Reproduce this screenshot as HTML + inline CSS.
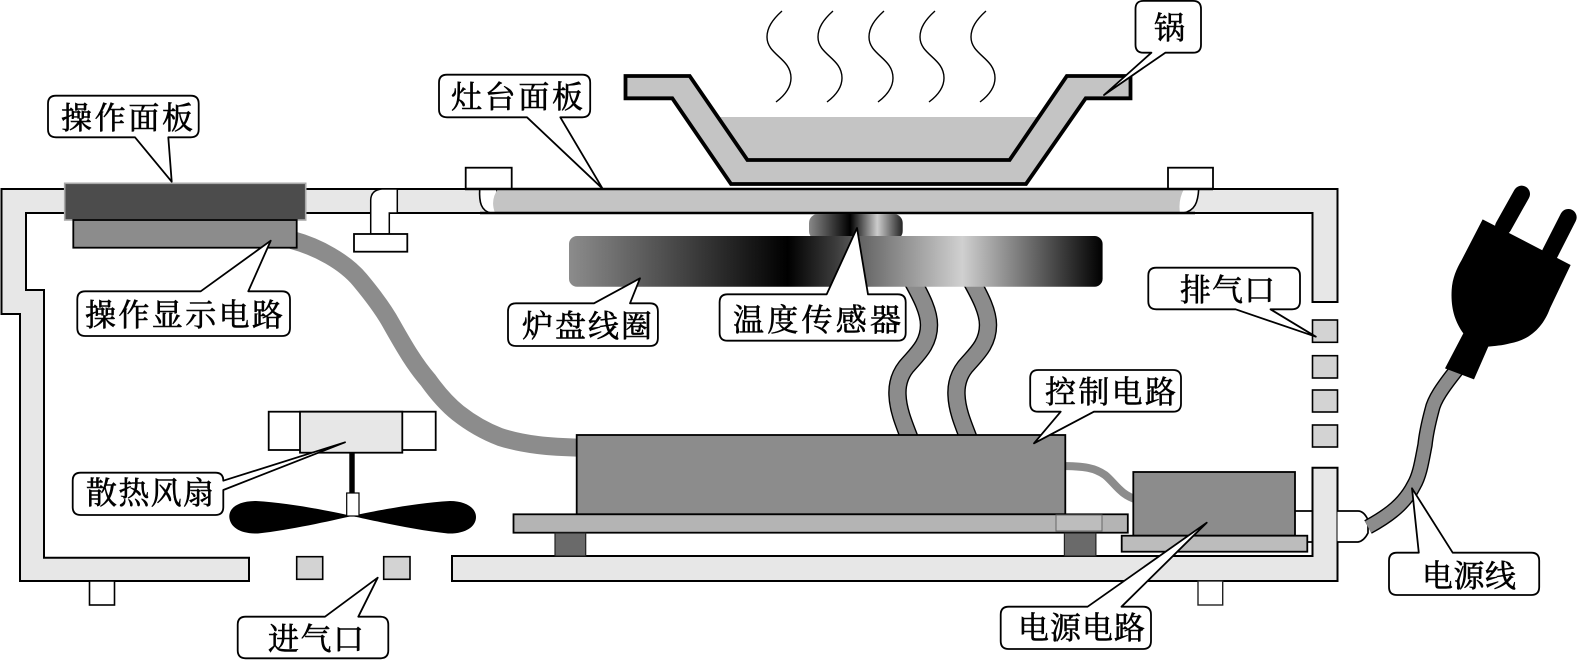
<!DOCTYPE html>
<html lang="zh"><head><meta charset="utf-8"><style>
html,body{margin:0;padding:0;background:#fff;width:1577px;height:660px;overflow:hidden}
svg{display:block}
text{font-family:"Liberation Serif","Noto Serif CJK SC",serif;font-size:31px;fill:#000;stroke:#000;stroke-width:.6}
.c{fill:#fff;stroke:#000;stroke-width:1.8;stroke-linejoin:round}
.s{stroke:#000;stroke-width:2}
</style></head><body>
<svg width="1577" height="660" viewBox="0 0 1577 660" xmlns="http://www.w3.org/2000/svg">
<defs>
<linearGradient id="coil" gradientUnits="userSpaceOnUse" x1="569" y1="0" x2="1102.6" y2="0">
<stop offset="0" stop-color="#8c8c8c"/><stop offset=".41" stop-color="#000"/><stop offset=".5" stop-color="#3c3c3c"/><stop offset=".55" stop-color="#666"/><stop offset=".737" stop-color="#d0d0d0"/><stop offset="1" stop-color="#000"/>
</linearGradient>
<linearGradient id="sens" gradientUnits="userSpaceOnUse" x1="809" y1="0" x2="902.7" y2="0">
<stop offset="0" stop-color="#888"/><stop offset=".44" stop-color="#000"/><stop offset=".73" stop-color="#ccc"/><stop offset="1" stop-color="#222"/>
</linearGradient>
</defs>

<!-- heat waves -->
<g fill="none" stroke="#000" stroke-width="1.4">
<path d="M782 11 C772 20 767 28 767 37 C767 55 791 58 791 78 C791 88 784 96 776 102"/>
<path d="M833 11 C823 20 818 28 818 37 C818 55 842 58 842 78 C842 88 835 96 827 102"/>
<path d="M884 11 C874 20 869 28 869 37 C869 55 893 58 893 78 C893 88 886 96 878 102"/>
<path d="M935 11 C925 20 920 28 920 37 C920 55 944 58 944 78 C944 88 937 96 929 102"/>
<path d="M986 11 C976 20 971 28 971 37 C971 55 995 58 995 78 C995 88 988 96 980 102"/>
</g>

<!-- shell -->
<path d="M1.5 189 H1337.5 V302 H1312.5 V213 H26 V290 H44 V557.7 H249 V581 H20 V314 H1.5 Z" fill="#e7e7e7" class="s"/>
<path d="M452 556 H1312.5 V467.7 H1337.5 V581 H452 Z" fill="#e7e7e7" class="s"/>

<!-- feet -->
<rect x="89.5" y="581" width="25" height="24" fill="#fff" stroke="#000" stroke-width="1.6"/>
<rect x="1198" y="581" width="24.7" height="24" fill="#fff" stroke="#222" stroke-width="1.4"/>

<!-- vents -->
<g fill="#d3d3d3" stroke="#000" stroke-width="1.6">
<rect x="296.7" y="556.7" width="26" height="22.6"/>
<rect x="383.7" y="556.7" width="26.3" height="22.6"/>
<rect x="1312.5" y="320" width="25" height="22.3"/>
<rect x="1312.5" y="355.7" width="25" height="22.3"/>
<rect x="1312.5" y="390" width="25" height="22"/>
<rect x="1312.5" y="425" width="25" height="22"/>
</g>

<!-- left support -->
<path d="M370.7 234 V200 Q371 190 382 189 H397.3 V213 H389.3 V234 Z" fill="#fff" stroke="#000" stroke-width="1.5"/>
<rect x="354" y="234" width="53.3" height="17.7" fill="#fff" stroke="#000" stroke-width="1.8"/>

<!-- hob panel clips -->
<rect x="465.7" y="167.7" width="46" height="21.3" fill="#fff" stroke="#000" stroke-width="1.8"/>
<rect x="1168" y="167.7" width="45" height="21.3" fill="#fff" stroke="#000" stroke-width="1.8"/>
<path d="M479.7 189 C479 202 481 211 491 213 H497 V189 Z" fill="#fff" stroke="#000" stroke-width="1.6"/>
<path d="M1198.7 189 C1198 202 1195 211 1183 213 H1178 V189 Z" fill="#fff" stroke="#000" stroke-width="1.6"/>
<path d="M498 189 H1184 Q1178 200 1180 213 H495 Q490 200 498 189 Z" fill="#c4c4c4"/>
<path d="M465 189 H1213 M480 213 H1195" stroke="#000" stroke-width="2.4" fill="none"/>

<!-- pot -->
<path d="M716 117 H1040 L1009.6 160 H747.4 Z" fill="#c4c4c4"/>
<path d="M625.5 76 H689.7 L747.4 160 H1009.6 L1066.8 76 H1130.5 V98.3 H1085.7 L1026 184 H731 L672.3 98.3 H625.5 Z" fill="#c4c4c4" stroke="#000" stroke-width="3.8" stroke-linejoin="miter"/>

<!-- operation panel -->
<rect x="64.7" y="183.3" width="241" height="36.7" fill="#4c4c4c" stroke="#aaa" stroke-width="1.6"/>

<!-- wires -->
<path d="M292 240 C318 247 345 262 360 280 C375 298 385 312 392 325 C405 348 415 365 428 380 C438 394 448 405 458 413 C472 424 487 432 500 437 C525 445 550 447 580 447.7" fill="none" stroke="#8c8c8c" stroke-width="18"/>
<rect x="73.3" y="220" width="223.4" height="27.7" fill="#8c8c8c" stroke="#000" stroke-width="1.8"/>
<path d="M1060 466 C1085 466 1095 468 1105 475 C1115 483 1120 495 1138 500" fill="none" stroke="#8c8c8c" stroke-width="8"/>
<g fill="none">
<path d="M912 280 C922 298 929 312 929 325 C929 345 916 355 906 367 C899 376 897 385 897.5 395 C898 410 904 424 911 442" stroke="#000" stroke-width="18.5"/>
<path d="M912 280 C922 298 929 312 929 325 C929 345 916 355 906 367 C899 376 897 385 897.5 395 C898 410 904 424 911 442" stroke="#8c8c8c" stroke-width="15.7"/>
<path d="M971 280 C981 298 988 312 988 325 C988 345 975 355 965 367 C958 376 956 385 956.5 395 C957 410 963 424 970 442" stroke="#000" stroke-width="18.5"/>
<path d="M971 280 C981 298 988 312 988 325 C988 345 975 355 965 367 C958 376 956 385 956.5 395 C957 410 963 424 970 442" stroke="#8c8c8c" stroke-width="15.7"/>
</g>

<!-- sensor and coil -->
<rect x="809" y="214" width="93.7" height="26" rx="9" fill="url(#sens)"/>
<rect x="569" y="236" width="533.6" height="50.7" rx="8" fill="url(#coil)"/>

<!-- control board -->
<rect x="576.7" y="435" width="488.6" height="79.3" fill="#8c8c8c" stroke="#000" stroke-width="1.8"/>
<rect x="513.5" y="514.3" width="614.3" height="18.4" fill="#b4b4b4" stroke="#000" stroke-width="1.8"/>
<rect x="1056" y="515" width="46" height="16" fill="#bdbdbd" stroke="#666" stroke-width="1"/>
<rect x="555" y="533" width="30.7" height="23" fill="#6a6a6a" stroke="#222" stroke-width="1.2"/>
<rect x="1064.4" y="533" width="31.5" height="23" fill="#6a6a6a" stroke="#222" stroke-width="1.2"/>

<!-- power board -->
<rect x="1133.3" y="472" width="161.7" height="63.7" fill="#8c8c8c" stroke="#000" stroke-width="1.8"/>
<rect x="1121.7" y="535.7" width="185.6" height="16" fill="#bcbcbc" stroke="#000" stroke-width="1.8"/>
<path d="M1295 511 H1312 M1307 542 H1312" stroke="#000" stroke-width="1.8"/>

<!-- fan -->
<rect x="268.7" y="411.7" width="167" height="38.3" fill="#fff" stroke="#000" stroke-width="1.8"/>
<rect x="300" y="411.7" width="102.3" height="41" fill="#e7e7e7" stroke="#000" stroke-width="1.8"/>
<rect x="349.3" y="453" width="5.4" height="40" fill="#000"/>
<path d="M352 516 C330 511 290 503 256 501 C238 501 229 508 229.3 517 C230 527 240 534 258 533.5 C290 530 330 521 352 516 C375 511 415 503 450 501 C466 501 476 508 476 517 C476 527 465 534 448 533.5 C415 530 375 521 352 516 Z" fill="#000"/>
<rect x="346.7" y="493" width="12.3" height="23" fill="#fff" stroke="#000" stroke-width="1.2"/>

<!-- cord -->
<path d="M1337.5 511 H1358 Q1364 511 1368 520 V533 Q1364 541 1358 542 H1337.5" fill="#fff" stroke="#000" stroke-width="1.7"/>
<g fill="none">
<path d="M1458 368 C1442 388 1434 400 1432 410 C1428 425 1426 435 1425 445 C1422 460 1420 475 1414 485 C1405 503 1390 515 1368 527" stroke="#000" stroke-width="15.5"/>
<path d="M1458 368 C1442 388 1434 400 1432 410 C1428 425 1426 435 1425 445 C1422 460 1420 475 1414 485 C1405 503 1390 515 1368 527" stroke="#8c8c8c" stroke-width="12.7"/>
</g>

<!-- plug -->
<g transform="translate(1330 180) scale(.3333)" fill="#000">
<path d="M520 140 L575 42 M660 220 L715 112" stroke="#000" stroke-width="50" stroke-linecap="round"/>
<path d="M458 118 L722 255 L660 385 C640 440 600 480 540 490 C515 497 495 497 475 500 L432 598 L345 565 L400 460 C375 425 362 385 365 330 C367 295 380 265 395 240 Z"/>
</g>

<!-- callouts -->
<path class="c" d="M56 95.7 H190.7 Q198.7 95.7 198.7 103.7 V129.3 Q198.7 137.3 190.7 137.3 H168.3 L171.7 181.7 L135 137.3 H56 Q48 137.3 48 129.3 V103.7 Q48 95.7 56 95.7 Z"/>
<path class="c" d="M85.3 291.3 H200.7 L270.7 240.7 L248.3 291.3 H282 Q290 291.3 290 299.3 V328 Q290 336 282 336 H85.3 Q77.3 336 77.3 328 V299.3 Q77.3 291.3 85.3 291.3 Z"/>
<path class="c" d="M447 74.7 H582.2 Q590.2 74.7 590.2 82.7 V109.3 Q590.2 117.3 582.2 117.3 H560.3 L602.6 188.7 L527 117.3 H447 Q439 117.3 439 109.3 V82.7 Q439 74.7 447 74.7 Z"/>
<path class="c" d="M1143.5 .9 H1193 Q1201 .9 1201 8.9 V44.7 Q1201 52.7 1193 52.7 H1165.3 L1104 95 L1151.4 52.7 H1143.5 Q1135.5 52.7 1135.5 44.7 V8.9 Q1135.5 .9 1143.5 .9 Z"/>
<path class="c" d="M516 303.3 H594 L640 278.3 L630 303.3 H649.9 Q657.9 303.3 657.9 311.3 V338 Q657.9 346 649.9 346 H516 Q508 346 508 338 V311.3 Q508 303.3 516 303.3 Z"/>
<path class="c" d="M727.6 294.3 H826.7 L857 228 L868 294.3 H897.7 Q905.7 294.3 905.7 302.3 V332.7 Q905.7 340.7 897.7 340.7 H727.6 Q719.6 340.7 719.6 332.7 V302.3 Q719.6 294.3 727.6 294.3 Z"/>
<path class="c" d="M1156.3 267.7 H1292 Q1300 267.7 1300 275.7 V301.3 Q1300 309.3 1292 309.3 H1270.5 L1315.8 336.7 L1235.6 309.3 H1156.3 Q1148.3 309.3 1148.3 301.3 V275.7 Q1148.3 267.7 1156.3 267.7 Z"/>
<path class="c" d="M1038.2 370 H1173 Q1181 370 1181 378 V403.7 Q1181 411.7 1173 411.7 H1093.9 L1034 443.3 L1060.7 411.7 H1038.2 Q1030.2 411.7 1030.2 403.7 V378 Q1030.2 370 1038.2 370 Z"/>
<path class="c" d="M1008.7 606.7 H1087.6 L1206.7 522.7 L1121.5 606.7 H1143 Q1151 606.7 1151 614.7 V641 Q1151 649 1143 649 H1008.7 Q1000.7 649 1000.7 641 V614.7 Q1000.7 606.7 1008.7 606.7 Z"/>
<path class="c" d="M1397 552.7 H1418.8 L1412 488.3 L1452.7 552.7 H1531.2 Q1539.2 552.7 1539.2 560.7 V587 Q1539.2 595 1531.2 595 H1397 Q1389 595 1389 587 V560.7 Q1389 552.7 1397 552.7 Z"/>
<path class="c" d="M80.7 472.7 H215.3 Q223.3 472.7 223.3 480.7 L345 442.3 L223.3 490 V507 Q223.3 515 215.3 515 H80.7 Q72.7 515 72.7 507 V480.7 Q72.7 472.7 80.7 472.7 Z"/>
<path class="c" d="M245.7 616.7 H325 L377.7 577.7 L358.3 616.7 H380.3 Q388.3 616.7 388.3 624.7 V650.3 Q388.3 658.3 380.3 658.3 H245.7 Q237.7 658.3 237.7 650.3 V624.7 Q237.7 616.7 245.7 616.7 Z"/>

<!-- labels -->
<text x="61" y="129" textLength="132" lengthAdjust="spacing">操作面板</text>
<text x="85" y="326" textLength="198" lengthAdjust="spacing">操作显示电路</text>
<text x="451" y="108" textLength="132" lengthAdjust="spacing">灶台面板</text>
<text x="1154" y="39">锅</text>
<text x="522" y="337" textLength="130" lengthAdjust="spacing">炉盘线圈</text>
<text x="733" y="331" textLength="168" lengthAdjust="spacing">温度传感器</text>
<text x="1180" y="301" textLength="95" lengthAdjust="spacing">排气口</text>
<text x="1045" y="403" textLength="131" lengthAdjust="spacing">控制电路</text>
<text x="1018" y="639" textLength="127" lengthAdjust="spacing">电源电路</text>
<text x="1422" y="587" textLength="94" lengthAdjust="spacing">电源线</text>
<text x="86" y="504" textLength="128" lengthAdjust="spacing">散热风扇</text>
<text x="268" y="650" textLength="96" lengthAdjust="spacing">进气口</text>
</svg>
</body></html>
